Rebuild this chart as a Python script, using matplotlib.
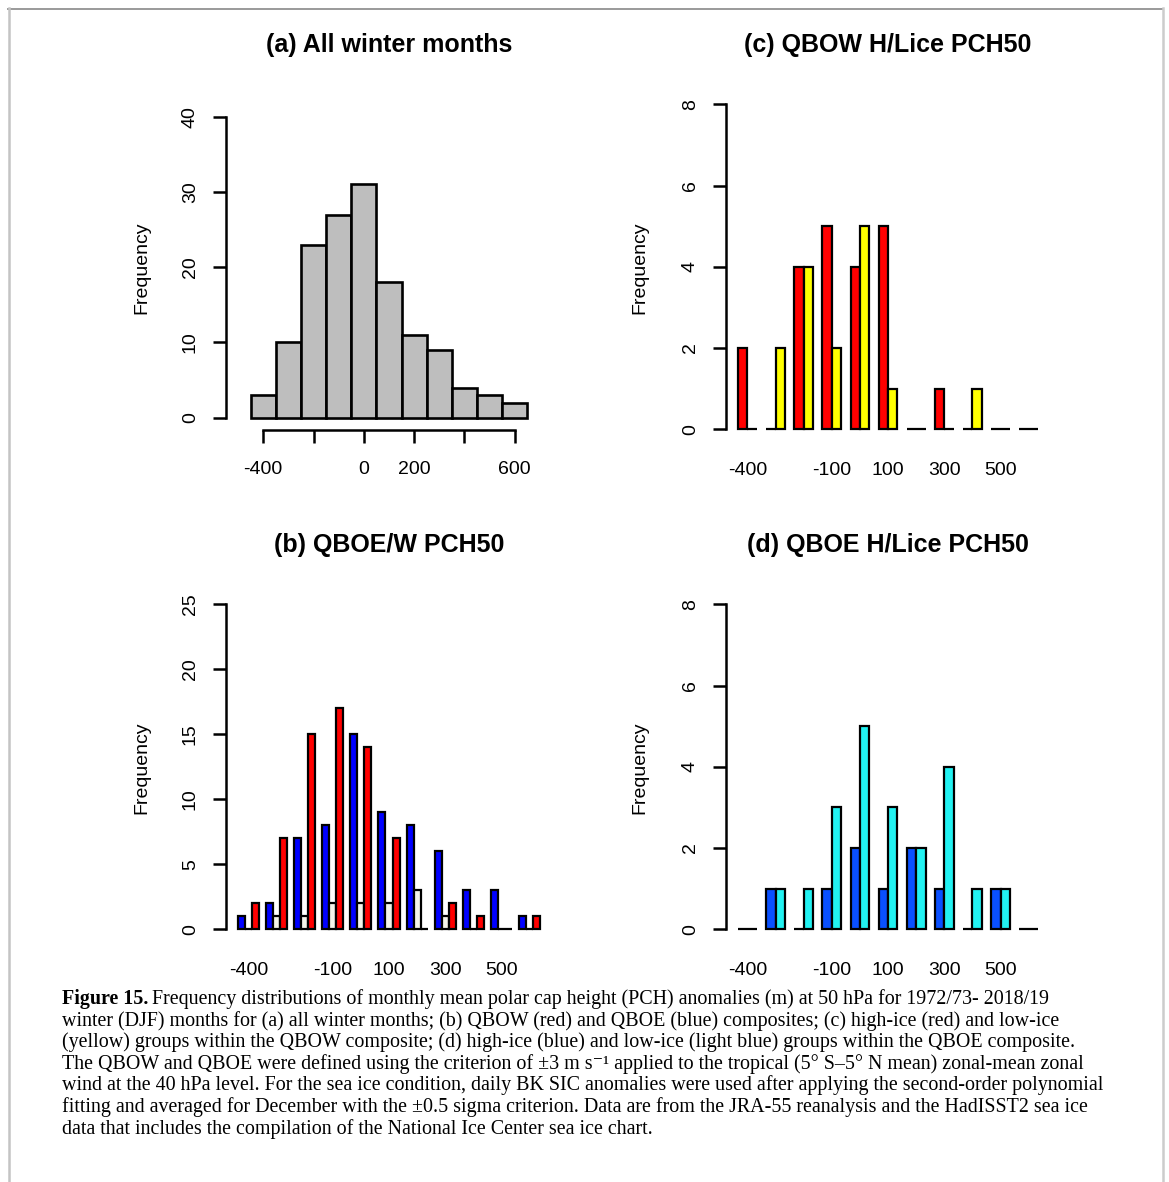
import numpy as np
import matplotlib.pyplot as plt
from matplotlib.lines import Line2D

# data (counts per 100 m bin, bins centred at -400 ... 600)
bin_edges = np.arange(-450, 651, 100)
bin_centres = [-400, -300, -200, -100, 0, 100, 200, 300, 400, 500, 600]
freq_all = [3, 10, 23, 27, 31, 18, 11, 9, 4, 3, 2]

qboe_b = [1, 2, 7, 8, 15, 9, 8, 6, 3, 3, 1]
neutral_b = [0, 1, 1, 2, 2, 2, 3, 1, 0, 0, 0]
qbow_b = [2, 7, 15, 17, 14, 7, 0, 2, 1, 0, 1]

qbow_high = [2, 0, 4, 5, 4, 5, 0, 1, 0, 0, 0]
qbow_low = [0, 2, 4, 2, 5, 1, 0, 0, 1, 0, 0]

qboe_high = [0, 1, 0, 1, 2, 1, 2, 1, 0, 1, 0]
qboe_low = [0, 1, 1, 3, 5, 3, 2, 4, 1, 1, 0]

shown_labels = [-400, -100, 100, 300, 500]

caption = [
    "Frequency distributions of monthly mean polar cap height (PCH) anomalies (m) at 50 hPa for 1972/73- 2018/19",
    "winter (DJF) months for (a) all winter months; (b) QBOW (red) and QBOE (blue) composites; (c) high-ice (red) and low-ice",
    "(yellow) groups within the QBOW composite; (d) high-ice (blue) and low-ice (light blue) groups within the QBOE composite.",
    "The QBOW and QBOE were defined using the criterion of \u00b13 m s\u207b\u00b9 applied to the tropical (5\u00b0 S\u20135\u00b0 N mean) zonal-mean zonal",
    "wind at the 40 hPa level. For the sea ice condition, daily BK SIC anomalies were used after applying the second-order polynomial",
    "fitting and averaged for December with the \u00b10.5 sigma criterion. Data are from the JRA-55 reanalysis and the HadISST2 sea ice",
    "data that includes the compilation of the National Ice Center sea ice chart.",
]

W, H = 1169, 1182
plt.rcParams['font.family'] = ['Liberation Sans', 'DejaVu Sans']
fig = plt.figure(figsize=(W / 100, H / 100), dpi=100)

LW = 1.8
FS = 14
TFS = 18
SERIF = ['Liberation Serif', 'DejaVu Serif']


def axes_px(left, top, right, bottom):
    return fig.add_axes([left / W, 1 - bottom / H, (right - left) / W, (bottom - top) / H])


def r_style(ax, ymax, step):
    for s in ['top', 'right']:
        ax.spines[s].set_visible(False)
    ax.spines['left'].set_bounds(0, ymax)
    ax.spines['left'].set_linewidth(LW)
    ax.set_yticks(np.arange(0, ymax + 1, step))
    ax.tick_params(axis='y', length=9.5, width=LW, labelsize=FS, pad=10)
    for lbl in ax.get_yticklabels():
        lbl.set_rotation(90)
        lbl.set_va('center')
    ax.set_ylim(-0.04 * ymax, 1.04 * ymax)
    ax.patch.set_visible(False)


def r_barplot(ax, series, colours):
    n = len(series)
    g = np.arange(len(series[0]))
    for i, (vals, col) in enumerate(zip(series, colours)):
        ax.bar(1 + g * (n + 1) + i, vals, width=1, align='edge', color=col,
               edgecolor='black', linewidth=1.6)
    hi = len(g) * (n + 1)
    ext = 0.04 * (hi - 1)
    ax.set_xlim(1 - ext, hi + ext)
    centres = 1 + g * (n + 1) + n / 2
    pos = [centres[bin_centres.index(v)] for v in shown_labels]
    ax.set_xticks(pos, [str(v) for v in shown_labels])
    ax.spines['bottom'].set_visible(False)
    ax.tick_params(axis='x', length=0, labelsize=FS, pad=14)


def ylabel_title(ax, xc, yc, title, ty):
    bb = ax.get_position()
    fig.text(xc / W, 1 - yc / H, "Frequency", rotation=90, ha='center', va='center', fontsize=FS)
    fig.text((bb.x0 + bb.x1) / 2, 1 - ty / H, title, ha='center', va='center',
             fontsize=TFS, fontweight='bold')


# (a) all winter months
ax = axes_px(226, 104.7, 552, 429.7)
ax.hist(np.array(bin_centres), bins=bin_edges, weights=freq_all, color='#bebebe',
        edgecolor='black', linewidth=1.9)
r_style(ax, 40, 10)
ax.set_xlim(-548, 748)
ax.spines['bottom'].set_bounds(-400, 600)
ax.spines['bottom'].set_linewidth(LW)
ax.set_xticks(np.arange(-400, 601, 200), ['-400', '', '0', '200', '', '600'])
ax.tick_params(axis='x', length=9.5, width=LW, labelsize=FS, pad=13)
ylabel_title(ax, 142, 268, "(a) All winter months", 45)

# (c) QBOW high / low ice
ax = axes_px(726, 91.3, 1050, 442.3)
r_barplot(ax, [qbow_high, qbow_low], ['#ff0000', '#ffff00'])
r_style(ax, 8, 2)
ylabel_title(ax, 640, 268, "(c) QBOW H/Lice PCH50", 45)

# (b) QBOE / QBOW
ax = axes_px(226, 591.3, 552, 942.3)
r_barplot(ax, [qboe_b, neutral_b, qbow_b], ['#0000ff', '#f4f4ea', '#ff0000'])
r_style(ax, 25, 5)
ylabel_title(ax, 142, 768, "(b) QBOE/W PCH50", 545)

# (d) QBOE high / low ice
ax = axes_px(726, 591.3, 1050, 942.3)
r_barplot(ax, [qboe_high, qboe_low], ['#0a50ff', '#22f2f2'])
r_style(ax, 8, 2)
ylabel_title(ax, 640, 768, "(d) QBOE H/Lice PCH50", 545)

# frame around the figure
fig.add_artist(Line2D([8 / W, 1163 / W], [1 - 8.5 / H, 1 - 8.5 / H], color='#9a9a9a', lw=1.4))
fig.add_artist(Line2D([9 / W, 9 / W], [0, 1 - 8 / H], color='#c4c4c4', lw=1.8))
fig.add_artist(Line2D([1163 / W, 1163 / W], [0, 1 - 8 / H], color='#cccccc', lw=1.8))

# caption
renderer = fig.canvas.get_renderer()
cap_x = 62
cap_fs = 14.4
y0 = 1004
dy = 21.6
t = fig.text(cap_x / W, 1 - y0 / H, "Figure 15.", fontsize=cap_fs, fontweight='bold',
             family=SERIF, va='baseline')
w0 = t.get_window_extent(renderer).width
fig.text((cap_x + w0 + 4) / W, 1 - y0 / H, caption[0], fontsize=cap_fs,
         family=SERIF, va='baseline')
for k, line in enumerate(caption[1:], start=1):
    fig.text(cap_x / W, 1 - (y0 + k * dy) / H, line, fontsize=cap_fs,
             family=SERIF, va='baseline')

fig.savefig("out.png", dpi=100)
